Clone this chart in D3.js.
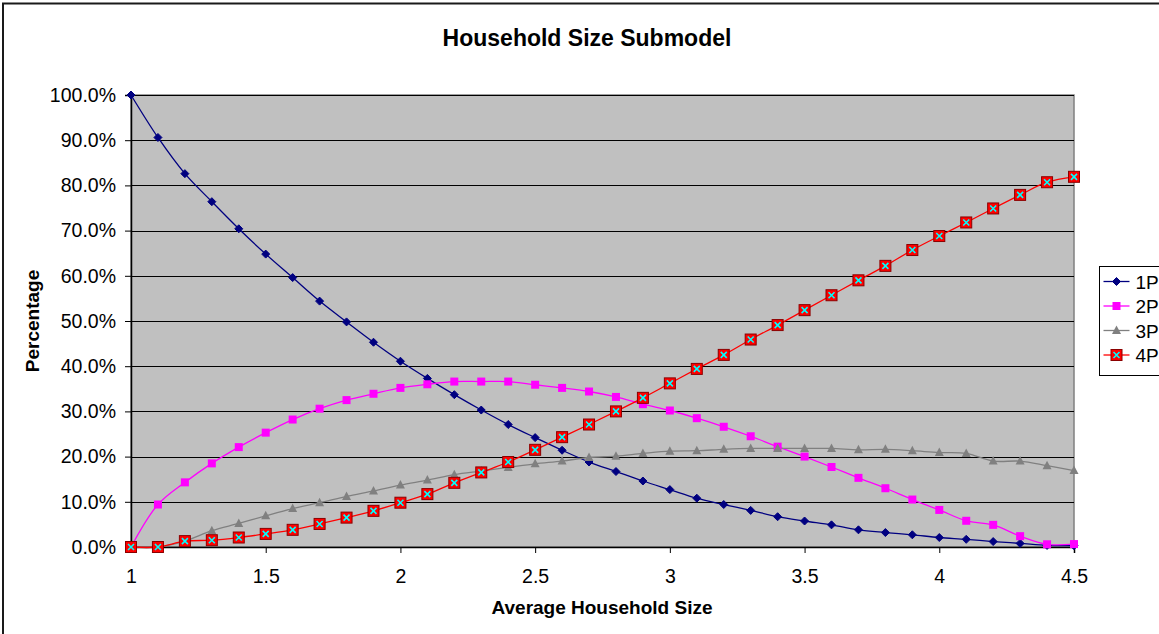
<!DOCTYPE html>
<html>
<head>
<meta charset="utf-8">
<script src="https://cdn.jsdelivr.net/npm/d3@7"></script>
<style>
  html, body { margin: 0; padding: 0; background: #fff; }
  svg { display: block; font-family: "Liberation Sans", Arial, sans-serif; }
</style>
</head>
<body>
<svg id="chart" width="1159" height="634"></svg>
<script>
// Average household size (x) and share of households by size (percent)
const householdSize = [1.0, 1.1, 1.2, 1.3, 1.4, 1.5, 1.6, 1.7, 1.8, 1.9,
  2.0, 2.1, 2.2, 2.3, 2.4, 2.5, 2.6, 2.7, 2.8, 2.9,
  3.0, 3.1, 3.2, 3.3, 3.4, 3.5, 3.6, 3.7, 3.8, 3.9,
  4.0, 4.1, 4.2, 4.3, 4.4, 4.5];

const onePerson = [100.0, 90.6, 82.6, 76.4, 70.4, 64.8, 59.6, 54.4, 49.8, 45.3,
  41.1, 37.3, 33.7, 30.3, 27.1, 24.2, 21.4, 18.8, 16.7, 14.6,
  12.7, 10.8, 9.4, 8.1, 6.7, 5.75, 4.9, 3.8, 3.2, 2.7,
  2.1, 1.7, 1.2, 0.8, 0.35, 0.3];

const twoPerson = [0.0, 9.4, 14.3, 18.5, 22.1, 25.3, 28.2, 30.6, 32.5, 33.9,
  35.2, 36.0, 36.6, 36.6, 36.6, 35.9, 35.2, 34.4, 33.2, 31.6,
  30.2, 28.5, 26.6, 24.5, 22.2, 20.0, 17.7, 15.3, 13.0, 10.5,
  8.2, 5.8, 4.9, 2.4, 0.6, 0.65];

const threePerson = [0.0, 0.0, 1.3, 3.6, 5.2, 6.9, 8.5, 9.8, 11.2, 12.4,
  13.7, 14.8, 16.0, 16.8, 17.6, 18.4, 19.0, 19.8, 20.1, 20.7,
  21.2, 21.3, 21.6, 21.8, 21.8, 21.8, 21.8, 21.5, 21.6, 21.3,
  20.9, 20.7, 19.0, 19.0, 18.0, 16.9];

const fourPerson = [0.0, 0.0, 1.3, 1.5, 2.1, 2.9, 3.8, 5.1, 6.5, 8.0,
  9.8, 11.7, 14.2, 16.5, 18.8, 21.5, 24.3, 27.1, 30.0, 33.0,
  36.2, 39.4, 42.5, 45.9, 49.1, 52.4, 55.7, 59.0, 62.2, 65.7,
  68.8, 71.8, 74.9, 77.9, 80.7, 81.9];

const seriesNames = ["1P", "2P", "3P", "4P"];
const xTicks = [1, 1.5, 2, 2.5, 3, 3.5, 4, 4.5];
const yTicks = [0, 10, 20, 30, 40, 50, 60, 70, 80, 90, 100];

const series = [
  { name: seriesNames[0], values: onePerson,   color: "#000080", marker: "diamond" },
  { name: seriesNames[1], values: twoPerson,   color: "#FF00FF", marker: "square" },
  { name: seriesNames[2], values: threePerson, color: "#808080", marker: "triangle" },
  { name: seriesNames[3], values: fourPerson,  color: "#FF0000", marker: "xsquare" }
];

const svg = d3.select("#chart");
const plot = { left: 131, right: 1074, top: 95, bottom: 547 };
const FONT = "Liberation Sans, Arial, sans-serif";

const x = d3.scaleLinear().domain([1, 4.5]).range([plot.left, plot.right]);
const y = d3.scaleLinear().domain([0, 100]).range([plot.bottom, plot.top]);

// Outer chart frame
svg.append("rect")
  .attr("x", 3).attr("y", 3.5)
  .attr("width", 1170).attr("height", 640)
  .attr("fill", "#fff").attr("stroke", "#1a1a1a").attr("stroke-width", 2);

// Plot area background
svg.append("rect")
  .attr("x", plot.left).attr("y", plot.top)
  .attr("width", plot.right - plot.left).attr("height", plot.bottom - plot.top)
  .attr("fill", "#C0C0C0").attr("stroke", "#808080").attr("stroke-width", 1.5);

// Horizontal gridlines
svg.append("g")
  .selectAll("line")
  .data(yTicks.filter(d => d > 0))
  .join("line")
  .attr("x1", plot.left).attr("x2", plot.right)
  .attr("y1", d => Math.round(y(d)) + 0.5).attr("y2", d => Math.round(y(d)) + 0.5)
  .attr("stroke", "#000").attr("stroke-width", 1);

// Y axis
const yAxis = svg.append("g")
  .attr("transform", `translate(${plot.left},0)`)
  .call(d3.axisLeft(y).tickValues(yTicks).tickSize(6).tickPadding(9)
    .tickFormat(d => d.toFixed(1) + "%"));
yAxis.select(".domain").attr("stroke", "#000").attr("stroke-width", 1.5);
yAxis.selectAll(".tick line").attr("stroke", "#000");
yAxis.selectAll("text").attr("font-size", 19.5).attr("fill", "#000")
  .attr("font-family", FONT);

// X axis
const xAxis = svg.append("g")
  .attr("transform", `translate(0,${plot.bottom})`)
  .call(d3.axisBottom(x).tickValues(xTicks).tickSize(6).tickPadding(16)
    .tickFormat(d3.format("")));
xAxis.select(".domain").attr("stroke", "#000").attr("stroke-width", 1.5);
xAxis.selectAll(".tick line").attr("stroke", "#000");
xAxis.selectAll("text").attr("font-size", 19.5).attr("fill", "#000")
  .attr("font-family", FONT);

// Marker drawing
function drawMarker(g, type, color) {
  if (type === "diamond") {
    g.append("path").attr("d", "M0,-4L4,0L0,4L-4,0Z").attr("fill", color).attr("stroke", color);
  } else if (type === "square") {
    g.append("rect").attr("x", -4).attr("y", -4).attr("width", 8).attr("height", 8).attr("fill", color);
  } else if (type === "triangle") {
    g.append("path").attr("d", "M0,-5L4.5,3.5L-4.5,3.5Z").attr("fill", color);
  } else if (type === "xsquare") {
    g.append("rect").attr("x", -5.5).attr("y", -5.5).attr("width", 11).attr("height", 11)
      .attr("fill", color).attr("stroke", "#8B0000").attr("stroke-width", 1);
    g.append("path").attr("d", "M-3,-3L3,3M3,-3L-3,3").attr("stroke", "#00FFFF").attr("stroke-width", 1.6);
  }
}

// Series lines and markers
const line = d3.line()
  .x((d, i) => x(householdSize[i]))
  .y(d => y(d))
  .curve(d3.curveCatmullRom.alpha(0.5));

series.forEach(s => {
  svg.append("path")
    .datum(s.values)
    .attr("d", line)
    .attr("fill", "none")
    .attr("stroke", s.color)
    .attr("stroke-width", 1.3);
});
series.forEach(s => {
  svg.append("g").selectAll("g")
    .data(s.values)
    .join("g")
    .attr("transform", (d, i) => `translate(${x(householdSize[i])},${y(d)})`)
    .each(function () { drawMarker(d3.select(this), s.marker, s.color); });
});

// Title and axis titles
svg.append("text")
  .attr("x", 587).attr("y", 46)
  .attr("text-anchor", "middle").attr("font-size", 23).attr("font-weight", "bold")
  .text("Household Size Submodel");

svg.append("text")
  .attr("x", 602).attr("y", 614)
  .attr("text-anchor", "middle").attr("font-size", 19).attr("font-weight", "bold")
  .text("Average Household Size");

svg.append("text")
  .attr("transform", "translate(39,321) rotate(-90)")
  .attr("text-anchor", "middle").attr("font-size", 19).attr("font-weight", "bold")
  .text("Percentage");

// Legend
const legend = svg.append("g").attr("transform", "translate(1099.5,266.5)");
legend.append("rect")
  .attr("width", 80).attr("height", 109)
  .attr("fill", "#fff").attr("stroke", "#000").attr("stroke-width", 1);
series.forEach((s, i) => {
  const row = legend.append("g").attr("transform", `translate(0,${15 + i * 24.5})`);
  row.append("line").attr("x1", 4).attr("x2", 30).attr("y1", 0).attr("y2", 0)
    .attr("stroke", s.color).attr("stroke-width", 1.3);
  drawMarker(row.append("g").attr("transform", "translate(17,0)"), s.marker, s.color);
  row.append("text").attr("x", 36).attr("y", 7)
    .attr("font-size", 19).attr("fill", "#000").text(s.name);
});
</script>
</body>
</html>
